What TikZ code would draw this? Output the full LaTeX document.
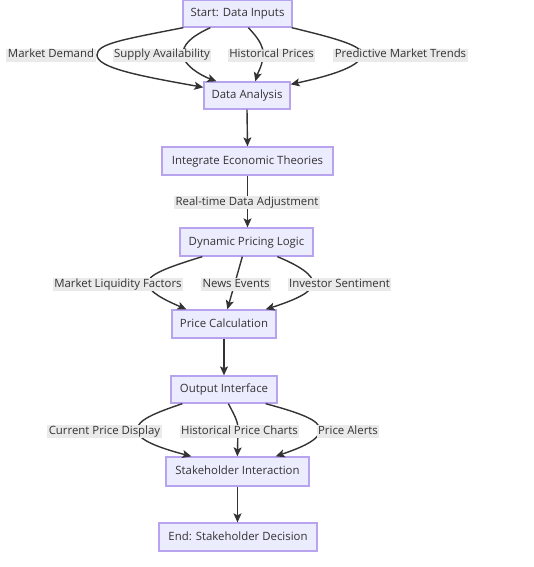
\documentclass[tikz,border=0pt]{standalone}
\usepackage{fontspec}
\setmainfont{Open Sans}
\usetikzlibrary{arrows.meta}
\definecolor{nodefill}{HTML}{ECECFF}
\definecolor{nodeline}{HTML}{B7A3EE}
\definecolor{txt}{HTML}{333333}
\definecolor{lblbg}{HTML}{EAEAEA}
\tikzset{
  box/.style={draw=nodeline, fill=nodefill, line width=1.3pt, minimum height=27pt,
    inner sep=0pt, text=txt, font=\fontsize{11.4}{13}\selectfont,
    text height=8.5pt, text depth=2.5pt},
  elabel/.style={fill=lblbg, inner xsep=1.5pt, inner ysep=1pt, text=txt,
    font=\fontsize{11.4}{13}\selectfont, text height=8pt, text depth=3pt, yshift=-1.5pt},
  conn/.style={draw=txt, line width=1.4pt,
    -{Stealth[length=9pt,width=8pt,inset=2pt]}},
}
\begin{document}
\begin{tikzpicture}[x=1pt,y=-1pt]
\useasboundingbox[fill=white] (0,0) rectangle (533,567);
% nodes
\node[box, minimum width=109pt] (start) at (237.5,13.5) {Start: Data Inputs};
\node[box, minimum width=86pt] (da) at (247,95.5) {Data Analysis};
\node[box, minimum width=171pt, minimum height=28pt] (iet) at (247.5,161) {Integrate Economic Theories};
\node[box, minimum width=133pt, minimum height=28pt] (dpl) at (246.5,242) {Dynamic Pricing Logic};
\node[box, minimum width=104pt, minimum height=28pt] (pc) at (224,324) {Price Calculation};
\node[box, minimum width=106pt] (oi) at (224,389.5) {Output Interface};
\node[box, minimum width=143pt, minimum height=29pt] (si) at (237.5,471.5) {Stakeholder Interaction};
\node[box, minimum width=158pt, minimum height=28pt] (end) at (238,537) {End: Stakeholder Decision};

% edges: start -> data analysis
\draw[conn] ([xshift=1pt]start.south west) .. controls (120,40) and (97,44) .. (97,55)
  .. controls (97,68) and (140,76) .. ([yshift=-6pt]da.north west);
\draw[conn] ([xshift=28pt]start.south west) .. controls (190,37) and (183,45) .. (183,54)
  .. controls (183,65) and (200,75) .. ([xshift=13pt]da.north west);
\draw[conn] ([xshift=66pt]start.south west) .. controls (258,38) and (263,45) .. (263,54)
  .. controls (263,65) and (258,72) .. ([xshift=52pt]da.north west);
\draw[conn] ([xshift=-1pt]start.south east) .. controls (330,37) and (362,45) .. (362,54)
  .. controls (362,68) and (320,78) .. ([yshift=-3pt]da.north east);

\draw[conn] (da.south) -- (iet.north);
\draw[conn] (iet.south) -- (iet.south |- dpl.north);

% dynamic pricing -> price calculation
\draw[conn] ([xshift=23pt]dpl.south west) .. controls (165,268) and (148,275) .. (148,283)
  .. controls (148,292) and (165,300) .. ([xshift=15pt]pc.north west);
\draw[conn] ([xshift=63pt]dpl.south west) -- ([xshift=56pt]pc.north west);
\draw[conn] ([xshift=98pt]dpl.south west) .. controls (300,266) and (313,275) .. (313,283)
  .. controls (313,292) and (295,300) .. ([xshift=-11pt]pc.north east);

\draw[conn] (pc.south) -- (pc.south |- oi.north);

% output interface -> stakeholder interaction
\draw[conn] ([xshift=12pt]oi.south west) .. controls (155,413) and (137,420) .. (137,430)
  .. controls (137,440) and (160,448) .. ([xshift=26pt]si.north west);
\draw[conn] ([xshift=58pt]oi.south west) .. controls (236,418) and (238,422) .. (238,430)
  -- ([xshift=72pt]si.north west);
\draw[conn] ([xshift=-12pt]oi.south east) .. controls (300,413) and (320,420) .. (320,430)
  .. controls (320,440) and (300,448) .. ([xshift=-34pt]si.north east);

\draw[conn] (si.south) -- (si.south |- end.north);

% edge labels
\node[elabel] (lmd) at (51,54) {Market Demand};
\node[elabel] (lsa) at (162,54) {Supply Availability};
\node[elabel] (lhp) at (271.5,54) {Historical Prices};
\node[elabel] (lpmt) at (400.5,54) {Predictive Market Trends};
\node[elabel] (lrt) at (247,201) {Real-time Data Adjustment};
\node[elabel] (lmlf) at (118,283) {Market Liquidity Factors};
\node[elabel] (lne) at (236,283) {News Events};
\node[elabel] (lis) at (339.5,283) {Investor Sentiment};
\node[elabel] (lcpd) at (104.5,430) {Current Price Display};
\node[elabel] (lhpc) at (239.5,430) {Historical Price Charts};
\node[elabel] (lpa) at (348,430) {Price Alerts};
\end{tikzpicture}
\end{document}
